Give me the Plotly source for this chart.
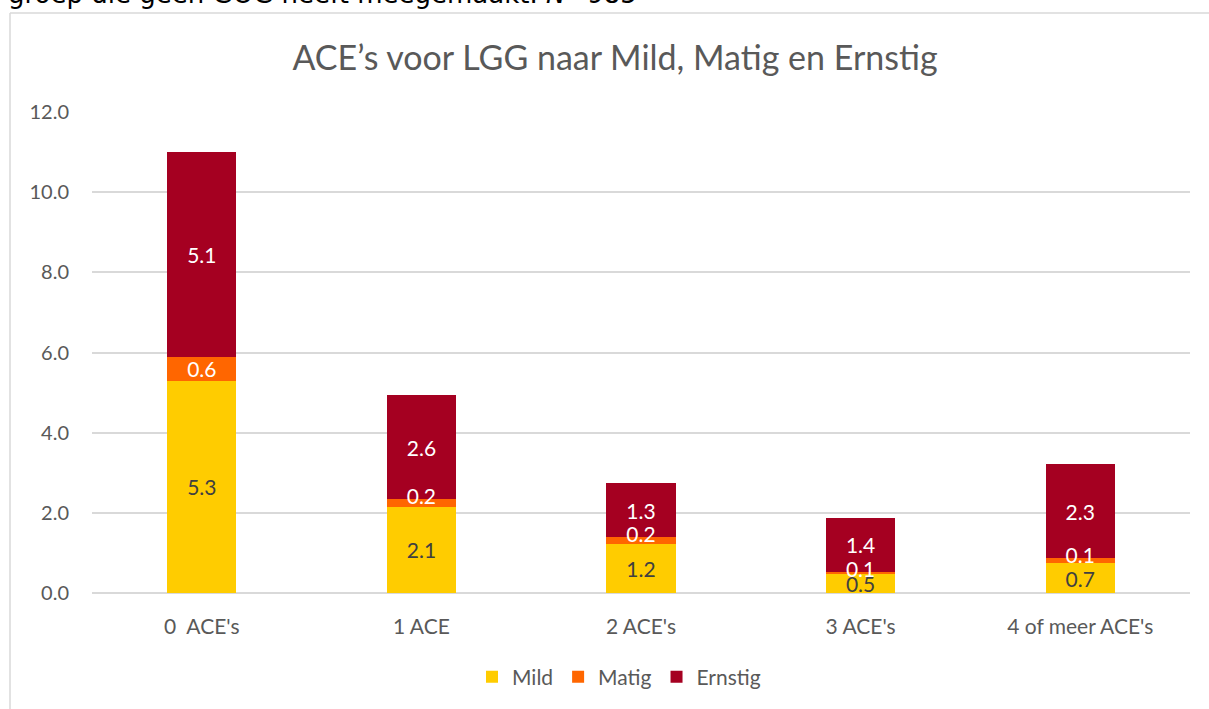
import plotly.graph_objects as go

categories = ["0\u00a0 ACE's", "1 ACE", "2 ACE's", "3 ACE's", "4 of meer ACE's"]
mild = [5.3, 2.15, 1.22, 0.47, 0.74]
matig = [0.58, 0.19, 0.18, 0.05, 0.13]
ernstig = [5.11, 2.6, 1.34, 1.36, 2.34]
series_names = ["Mild", "Matig", "Ernstig"]
colors = ["#FFCC00", "#FF6600", "#A50021"]
text_colors = ["#404040", "#FFFFFF", "#FFFFFF"]
y_ticks = [0, 2, 4, 6, 8, 10, 12]

FONT = "Lato"
W, H = 1209, 709
ML, MR, MT, MB = 92, 19, 112, 116
pw = W - ML - MR
ph = H - MT - MB

fig = go.Figure()
for i, (name, vals, col, tcol) in enumerate(zip(series_names, [mild, matig, ernstig], colors, text_colors)):
    labels = [f"{v:.1f}" for v in vals]
    if name == "Matig":
        # small segments get their labels drawn on the segment's top edge (below)
        labels = [lab if v >= 0.4 else "" for lab, v in zip(labels, vals)]
    fig.add_trace(go.Bar(
        name=name, x=categories, y=vals,
        marker=dict(color=col, line=dict(width=0)),
        text=labels,
        textposition="inside", insidetextanchor="middle", textangle=0,
        constraintext="none",
        textfont=dict(family=FONT, size=21, color=tcol),
        width=0.315,
    ))

# labels of thin "Matig" segments, placed at the segment's upper edge like the original
small_idx = [i for i, v in enumerate(matig) if v < 0.4]
fig.add_trace(go.Scatter(
    x=[categories[i] for i in small_idx],
    y=[mild[i] + matig[i] for i in small_idx],
    text=[f"{matig[i]:.1f}" for i in small_idx],
    mode="text", textposition="middle center",
    textfont=dict(family=FONT, size=21, color="#FFFFFF"),
    showlegend=False, hoverinfo="skip",
))

def px_x(p):
    return (p - ML) / pw

def px_y(p):
    return 1 - (p - MT) / ph

fig.update_layout(
    width=W, height=H,
    margin=dict(l=ML, r=MR, t=MT, b=MB),
    barmode="stack",
    plot_bgcolor="white", paper_bgcolor="white",
    uniformtext=dict(minsize=21, mode="show"),
    font=dict(family=FONT, color="#595959"),
    title=dict(text="ACE\u2019s voor LGG naar Mild, Matig en Ernstig",
               x=615 / W, xref="container", xanchor="center",
               y=1 - 58 / H, yanchor="middle",
               font=dict(family=FONT, size=34, color="#595959")),
    xaxis=dict(showgrid=False, showline=False, ticks="",
               tickfont=dict(family=FONT, size=21, color="#595959"),
               ticklabelstandoff=19),
    yaxis=dict(range=[0, 12], tickvals=y_ticks, tickformat=".1f",
               showgrid=True, gridcolor="#D9D9D9", gridwidth=1.5,
               zeroline=True, zerolinecolor="#D9D9D9", zerolinewidth=1.5,
               showline=False, ticks="",
               tickfont=dict(family=FONT, size=20, color="#595959"),
               ticklabelstandoff=22),
    legend=dict(orientation="h", x=px_x(619), xanchor="center",
                y=px_y(677), yanchor="middle",
                font=dict(family=FONT, size=21, color="#595959"),
                itemwidth=30, traceorder="normal"),
    bargap=0.685,
    showlegend=True,
)

# chart border (left + top), light gray
fig.add_shape(type="line", xref="paper", yref="paper",
              x0=px_x(10), x1=px_x(10), y0=px_y(13), y1=px_y(720),
              line=dict(color="#D9D9D9", width=1.5))
fig.add_shape(type="line", xref="paper", yref="paper",
              x0=px_x(10), x1=px_x(1215), y0=px_y(13), y1=px_y(13),
              line=dict(color="#D9D9D9", width=1.5))

# caption text above the chart (partially cut off at the top)
fig.add_annotation(text="groep die geen GOG heeft meegemaakt. <i>N</i>=985",
                   xref="paper", yref="paper", x=px_x(6), y=px_y(10.5),
                   xanchor="left", yanchor="bottom", showarrow=False,
                   font=dict(family="DejaVu Sans", size=26, color="#000000"))

fig.write_html("out.html", config={"displayModeBar": False},
               post_script="document.body.style.margin='0';")
